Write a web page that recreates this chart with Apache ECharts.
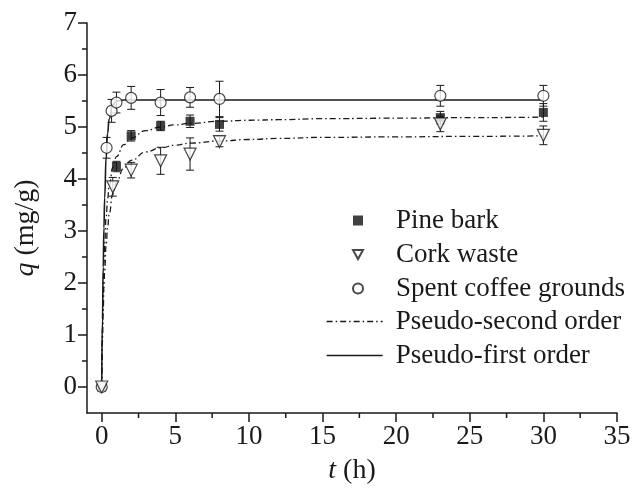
<!DOCTYPE html>
<html>
<head>
<meta charset="utf-8">
<script src="https://cdn.jsdelivr.net/npm/echarts@6/dist/echarts.min.js"></script>
<style>
html,body{margin:0;padding:0;background:#fff;}
#chart{width:634px;height:490px;}
</style>
</head>
<body>
<div id="chart"></div>
<script>
// ---- Data ----
const seriesNames = ['Pine bark', 'Cork waste', 'Spent coffee grounds', 'Pseudo-second order', 'Pseudo-first order'];

// Pine bark (filled squares)
const pineT   = [0, 1, 2, 4, 6, 8, 23, 30];
const pineQ   = [0, 4.24, 4.83, 5.02, 5.11, 5.05, 5.18, 5.28];
const pineErr = [0, 0.10, 0.10, 0.09, 0.12, 0.13, 0.12, 0.17];

// Cork waste (open down-triangles)
const corkT   = [0, 0.75, 2, 4, 6, 8, 23, 30];
const corkQ   = [0, 3.85, 4.17, 4.35, 4.48, 4.72, 5.06, 4.84];
const corkErr = [0, 0.18, 0.15, 0.26, 0.31, 0.10, 0.15, 0.18];

// Spent coffee grounds (open circles)
const coffeeT   = [0, 0.33, 0.67, 1, 2, 4, 6, 8, 23, 30];
const coffeeQ   = [0, 4.60, 5.31, 5.47, 5.56, 5.47, 5.57, 5.54, 5.60, 5.60];
const coffeeErr = [0, 0.20, 0.22, 0.20, 0.22, 0.25, 0.19, 0.34, 0.20, 0.20];

// Fitted curves
const curveT      = [0, 0.05, 0.1, 0.15, 0.2, 0.3, 0.4, 0.5, 0.75, 1, 1.5, 2, 3, 4, 5, 6, 8, 10, 12, 15, 20, 25, 30];
const psoPineQ    = [0, 1.14, 1.87, 2.38, 2.76, 3.27, 3.61, 3.85, 4.22, 4.43, 4.66, 4.79, 4.93, 5.00, 5.04, 5.07, 5.11, 5.13, 5.14, 5.16, 5.17, 5.18, 5.19];
const psoCorkQ    = [0, 0.86, 1.46, 1.90, 2.24, 2.73, 3.07, 3.32, 3.71, 3.95, 4.21, 4.36, 4.52, 4.60, 4.65, 4.69, 4.73, 4.76, 4.78, 4.80, 4.81, 4.82, 4.83];
const pfoCoffeeQ  = [0, 1.31, 2.30, 3.06, 3.64, 4.43, 4.88, 5.15, 5.43, 5.50, 5.52, 5.52, 5.52, 5.52, 5.52, 5.52, 5.52, 5.52, 5.52, 5.52, 5.52, 5.52, 5.52];

// Axis ranges and ticks
const xMin = -1, xMax = 35;
const yMin = -0.5, yMax = 7;
const xMajor = [0, 5, 10, 15, 20, 25, 30, 35];
const xMinor = [2.5, 7.5, 12.5, 17.5, 22.5, 27.5, 32.5];
const yMajor = [0, 1, 2, 3, 4, 5, 6, 7];
const yMinor = [0.5, 1.5, 2.5, 3.5, 4.5, 5.5, 6.5];

// ---- Build ----
const zip = (a, b) => a.map((v, i) => [v, b[i]]);
const zip3 = (a, b, c) => a.map((v, i) => [v, b[i], c[i]]);
const FONT = 'Liberation Serif';
const INK = '#1a1a1a';

function errorBars(data, z) {
  return {
    type: 'custom',
    data: data,
    encode: { x: 0, y: 1 },
    z: z,
    silent: true,
    renderItem: function (params, api) {
      const x = api.value(0), y = api.value(1), e = api.value(2);
      if (!(e > 0)) return null;
      const top = api.coord([x, y + e]);
      const bot = api.coord([x, y - e]);
      const hw = 4;
      const st = { stroke: INK, lineWidth: 1 };
      return {
        type: 'group',
        children: [
          { type: 'line', shape: { x1: top[0], y1: top[1], x2: bot[0], y2: bot[1] }, style: st },
          { type: 'line', shape: { x1: top[0] - hw, y1: top[1], x2: top[0] + hw, y2: top[1] }, style: st },
          { type: 'line', shape: { x1: bot[0] - hw, y1: bot[1], x2: bot[0] + hw, y2: bot[1] }, style: st }
        ]
      };
    }
  };
}

// Minor ticks (outward, short) placed through the axis scales
function minorTicks(data, dir) {
  return {
    type: 'custom',
    data: data,
    encode: { x: 0, y: 1 },
    clip: false,
    silent: true,
    z: 10,
    renderItem: function (params, api) {
      const p = api.coord([api.value(0), api.value(1)]);
      const len = 5;
      const shape = dir === 'x'
        ? { x1: p[0], y1: p[1], x2: p[0], y2: p[1] + len }
        : { x1: p[0], y1: p[1], x2: p[0] - len, y2: p[1] };
      return { type: 'line', shape: shape, style: { stroke: INK, lineWidth: 1.5 } };
    }
  };
}

const tickStyle = { color: INK, width: 1.5 };
const nameRich = { i: { fontStyle: 'italic', fontSize: 28, fontFamily: FONT, color: INK } };

const option = {
  animation: false,
  backgroundColor: '#fff',
  textStyle: { fontFamily: FONT, color: INK },
  grid: { left: 87, right: 17, top: 23, bottom: 77, containLabel: false },
  xAxis: {
    type: 'value', min: xMin, max: xMax, position: 'bottom',
    axisLine: { show: true, onZero: false, lineStyle: { color: INK, width: 1.5 } },
    splitLine: { show: false },
    axisTick: { show: true, inside: false, length: 9, customValues: xMajor, lineStyle: tickStyle },
    axisLabel: { show: true, customValues: xMajor, margin: 10, fontSize: 27, fontFamily: FONT, color: INK },
    name: '{i|t} (h)', nameLocation: 'middle', nameGap: 44,
    nameTextStyle: { fontSize: 28, fontFamily: FONT, color: INK, rich: nameRich }
  },
  yAxis: {
    type: 'value', min: yMin, max: yMax, position: 'left',
    axisLine: { show: true, onZero: false, lineStyle: { color: INK, width: 1.5 } },
    splitLine: { show: false },
    axisTick: { show: true, inside: false, length: 9, customValues: yMajor, lineStyle: tickStyle },
    axisLabel: { show: true, customValues: yMajor, margin: 10, fontSize: 27, fontFamily: FONT, color: INK },
    name: '{i|q} (mg/g)', nameLocation: 'middle', nameGap: 47, nameRotate: 90,
    nameTextStyle: { fontSize: 28, fontFamily: FONT, color: INK, padding: [0, 20, 0, 0], rich: nameRich }
  },
  legend: [
    {
      data: [
        { name: seriesNames[0] },
        { name: seriesNames[1], icon: 'path://M0,0 L12,0 L6,11 Z' },
        { name: seriesNames[2] }
      ],
      orient: 'vertical', left: 347, top: 202,
      itemWidth: 10, itemHeight: 10, itemGap: 7,
      textStyle: { fontSize: 27, fontFamily: FONT, color: INK, lineHeight: 26, padding: [0, 0, 0, 28] },
      selectedMode: false
    },
    {
      data: seriesNames.slice(3), orient: 'vertical', left: 321, top: 303,
      itemWidth: 56, itemHeight: 12, itemGap: 7,
      lineStyle: { width: 1.3 },
      itemStyle: { color: 'rgba(0,0,0,0)', borderColor: 'rgba(0,0,0,0)', borderWidth: 0, opacity: 0 },
      textStyle: { fontSize: 27, fontFamily: FONT, color: INK, lineHeight: 26, padding: [0, 0, 0, 8] },
      selectedMode: false
    }
  ],
  series: [
    minorTicks(xMinor.map(v => [v, yMin]), 'x'),
    minorTicks(yMinor.map(v => [xMin, v]), 'y'),
    errorBars(zip3(pineT, pineQ, pineErr), 1),
    errorBars(zip3(corkT, corkQ, corkErr), 1),
    errorBars(zip3(coffeeT, coffeeQ, coffeeErr), 1),
    {
      name: seriesNames[3], type: 'line', data: zip(curveT, psoPineQ), z: 2,
      symbol: 'none', smooth: true, smoothMonotone: 'x',
      lineStyle: { color: INK, width: 1.3, type: [6, 3, 1.5, 3] }, itemStyle: { color: INK }
    },
    {
      name: seriesNames[3], type: 'line', data: zip(curveT, psoCorkQ), z: 2,
      symbol: 'none', smooth: true, smoothMonotone: 'x',
      lineStyle: { color: INK, width: 1.3, type: [6, 3, 1.5, 3] }, itemStyle: { color: INK }
    },
    {
      name: seriesNames[4], type: 'line', data: zip(curveT, pfoCoffeeQ), z: 2,
      symbol: 'none', smooth: true, smoothMonotone: 'x',
      lineStyle: { color: INK, width: 1.6, type: 'solid' }, itemStyle: { color: INK }
    },
    {
      name: seriesNames[0], type: 'scatter', data: zip(pineT, pineQ), z: 3,
      symbol: 'rect', symbolSize: 9,
      itemStyle: { color: '#111', borderColor: '#111', borderWidth: 0 }
    },
    {
      name: seriesNames[2], type: 'scatter', data: zip(coffeeT, coffeeQ), z: 4,
      symbol: 'circle', symbolSize: 11,
      itemStyle: { color: '#fff', borderColor: INK, borderWidth: 1.2 }
    },
    {
      name: seriesNames[1], type: 'scatter', data: zip(corkT, corkQ), z: 5,
      symbol: 'triangle', symbolSize: 12, symbolRotate: 180,
      itemStyle: { color: '#fff', borderColor: INK, borderWidth: 1.2 }
    }
  ]
};

const chart = echarts.init(document.getElementById('chart'), null, { renderer: 'canvas' });
chart.setOption(option);
</script>
</body>
</html>
